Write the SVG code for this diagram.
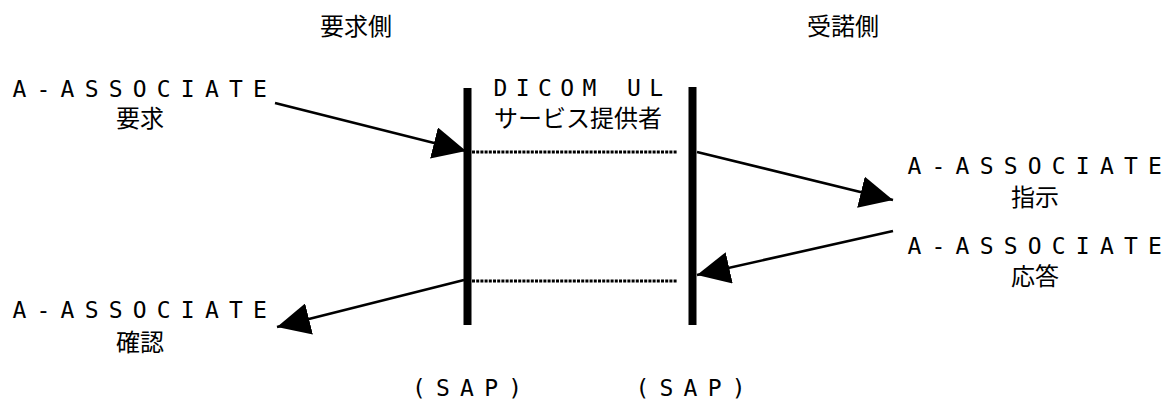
<svg xmlns="http://www.w3.org/2000/svg" width="1169" height="406" viewBox="0 0 1169 406">
  <defs>
    <style>
      .t { font-family: "Noto Sans CJK JP", "Noto Sans", sans-serif; font-size: 24px; fill: #000; text-anchor: middle; }
      .m { font-family: "DejaVu Sans Mono", "Liberation Mono", monospace; font-size: 23px; fill: #000; letter-spacing: 10.2px; }
      .last { letter-spacing: 0; }
      .bar { fill: #000; }
      .dot { stroke: #000; stroke-width: 3; stroke-dasharray: 3 1.2; fill: none; }
      .arr { stroke: #000; stroke-width: 2.6; fill: none; marker-end: url(#head); }
    </style>
    <marker id="head" viewBox="0 0 33 32" refX="33" refY="16" markerWidth="33" markerHeight="32" markerUnits="userSpaceOnUse" orient="auto">
      <path d="M0,0 L33,16 L0,32 Z" fill="#000"/>
    </marker>
  </defs>
  <rect width="1169" height="406" fill="#fff"/>

  <g id="header-requester"><text class="t" x="356" y="35">要求側</text></g>
  <g id="header-acceptor"><text class="t" x="843" y="35">受諾側</text></g>

  <g id="req">
    <text class="m" x="12.5" y="97">A-ASSOCIAT<tspan class="last">E</tspan></text>
    <text class="t" x="140" y="127">要求</text>
  </g>
  <g id="provider">
    <text class="m" x="493.5" y="96" style="letter-spacing:8.4px">DICOM U<tspan class="last">L</tspan></text>
    <text class="t" x="578" y="127">サービス提供者</text>
  </g>
  <g id="ind">
    <text class="m" x="907.5" y="174">A-ASSOCIAT<tspan class="last">E</tspan></text>
    <text class="t" x="1035" y="206">指示</text>
  </g>
  <g id="rsp">
    <text class="m" x="907.5" y="254">A-ASSOCIAT<tspan class="last">E</tspan></text>
    <text class="t" x="1035" y="285">応答</text>
  </g>
  <g id="cnf">
    <text class="m" x="12.5" y="318">A-ASSOCIAT<tspan class="last">E</tspan></text>
    <text class="t" x="140" y="351">確認</text>
  </g>

  <g id="sap-left">
    <rect class="bar" x="463.5" y="88" width="8" height="237"/>
    <text class="m" x="412" y="396">(SAP<tspan class="last">)</tspan></text>
  </g>
  <g id="sap-right">
    <rect class="bar" x="688.5" y="87" width="8" height="238"/>
    <text class="m" x="635.5" y="396">(SAP<tspan class="last">)</tspan></text>
  </g>

  <g id="connectors">
    <line class="dot" x1="472" y1="152" x2="677" y2="152"/>
    <line class="dot" x1="472" y1="281" x2="677" y2="281"/>
    <path class="arr" d="M275,103 L466,151"/>
    <path class="arr" d="M697,152 L893,200"/>
    <path class="arr" d="M893,231 L697,275"/>
    <path class="arr" d="M464,280 L277,327"/>
  </g>
</svg>
